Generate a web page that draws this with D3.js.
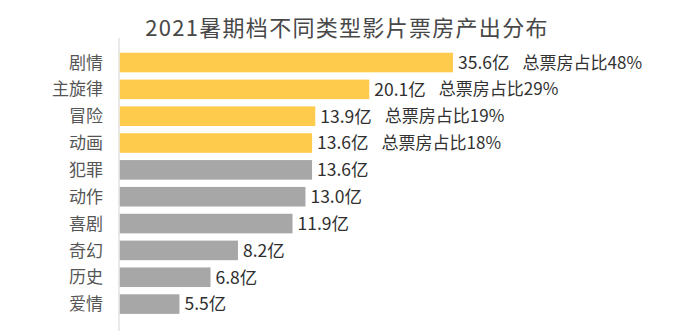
<!DOCTYPE html>
<html>
<head>
<meta charset="utf-8">
<script src="https://cdn.jsdelivr.net/npm/d3@7"></script>
<style>
  html, body { margin: 0; padding: 0; background: #ffffff; }
  svg { display: block; font-family: "Noto Sans CJK SC", "Noto Sans", sans-serif; }
</style>
</head>
<body>
<svg id="chart" width="685" height="331"></svg>
<script>
// Box office by film genre, summer 2021 (unit: 亿)
const titleText = "2021暑期档不同类型影片票房产出分布";
const genres = ["剧情", "主旋律", "冒险", "动画", "犯罪", "动作", "喜剧", "奇幻", "历史", "爱情"];
const boxOffice = [35.6, 20.1, 13.9, 13.6, 13.6, 13.0, 11.9, 8.2, 6.8, 5.5];
const highlighted = ["剧情", "主旋律", "冒险", "动画"];
const shareLabels = ["总票房占比48%", "总票房占比29%", "总票房占比19%", "总票房占比18%"];
const valueUnit = "亿";

const W = 685, H = 331;
const axisX = 119;
const svg = d3.select("#chart");

// Title
svg.append("text")
  .attr("x", 347).attr("y", 35.5)
  .attr("text-anchor", "middle")
  .attr("font-size", 22)
  .attr("letter-spacing", 1.3)
  .attr("fill", "#484848")
  .text(titleText);

// Scales: bar length grows on a log scale, categories on a band scale
const x = d3.scaleLog().domain([3.64, 35.6]).range([axisX, axisX + 334]);
const y = d3.scaleBand().domain(genres).range([49.1, 317.5])
  .paddingInner(0.27).paddingOuter(0.135);

const rows = genres.map((g, i) => ({ genre: g, value: boxOffice[i], hi: highlighted.includes(g) }));

// Vertical axis line
svg.append("line")
  .attr("x1", axisX).attr("x2", axisX)
  .attr("y1", 38).attr("y2", H)
  .attr("stroke", "#e2e2e2").attr("stroke-width", 1.5);

// Category labels
svg.append("g").selectAll("text").data(rows).join("text")
  .attr("x", 103)
  .attr("y", d => y(d.genre) + y.bandwidth() / 2)
  .attr("dy", "0.36em")
  .attr("text-anchor", "end")
  .attr("font-size", 17)
  .attr("fill", "#555555")
  .text(d => d.genre);

// Bars
svg.append("g").selectAll("rect").data(rows).join("rect")
  .attr("x", axisX + 0.8)
  .attr("y", d => y(d.genre))
  .attr("width", d => x(d.value) - axisX - 0.8)
  .attr("height", y.bandwidth())
  .attr("fill", d => d.hi ? "#FECB4C" : "#A7A7A7");

// Value labels
const valueLabels = svg.append("g").selectAll("text").data(rows).join("text")
  .attr("x", d => x(d.value) + 5)
  .attr("y", d => y(d.genre) + y.bandwidth() / 2)
  .attr("dy", "0.36em")
  .attr("font-size", 17.5)
  .attr("fill", "#2f2f2f")
  .text(d => d.value.toFixed(1) + valueUnit);

// Share-of-total notes for the highlighted genres
valueLabels.each(function (d, i) {
  if (i >= shareLabels.length) return;
  const end = d3.select(this).attr("x") * 1 + this.getComputedTextLength();
  svg.append("text")
    .attr("x", Math.max(end + 13, 378))
    .attr("y", y(d.genre) + y.bandwidth() / 2)
    .attr("dy", "0.36em")
    .attr("font-size", 17)
    .attr("fill", "#333333")
    .text(shareLabels[i]);
});
</script>
</body>
</html>
